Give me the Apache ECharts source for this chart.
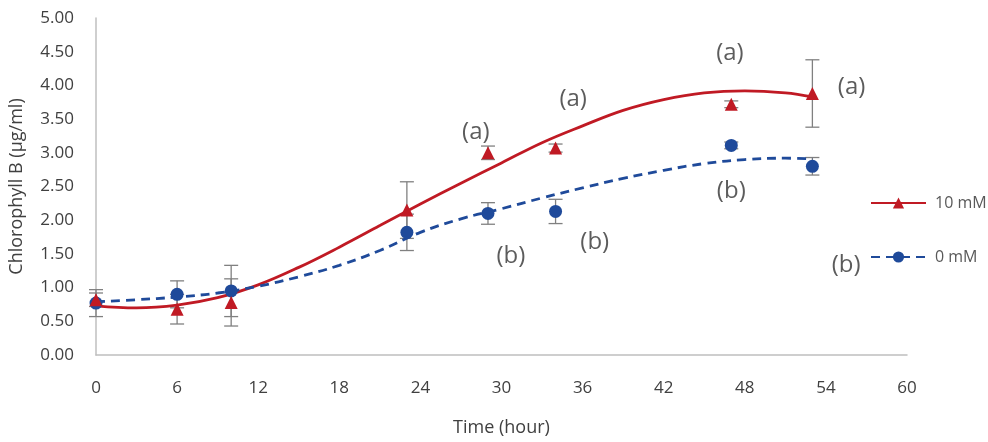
<!DOCTYPE html>
<html>
<head>
<meta charset="utf-8">
<script src="https://cdn.jsdelivr.net/npm/echarts@6/dist/echarts.min.js"></script>
<style>
html,body{margin:0;padding:0;background:#fff;}
#chart{width:988px;height:442px;}
</style>
</head>
<body>
<div id="chart"></div>
<script>
// Measured times (hours)
var times = [0, 6, 10, 23, 29, 34, 47, 53];
// 10 mM measurements and error
var red = [0.82, 0.68, 0.78, 2.15, 3.00, 3.07, 3.72, 3.88];
var redErr = [0.10, 0.22, 0.35, 0.42, 0.10, 0.06, 0.05, 0.50];
// 0 mM measurements and error
var blue = [0.77, 0.90, 0.95, 1.82, 2.10, 2.13, 3.11, 2.80];
var blueErr = [0.20, 0.20, 0.38, 0.27, 0.16, 0.18, 0.05, 0.13];
// Trendlines
var trendT = [0, 3, 6, 9, 12, 15, 18, 21, 24, 27, 30, 33, 36, 39, 42, 45, 48, 51, 53];
var redTrend = [0.73, 0.70, 0.74, 0.85, 1.04, 1.30, 1.60, 1.92, 2.24, 2.55, 2.85, 3.15, 3.40, 3.63, 3.79, 3.89, 3.92, 3.89, 3.83];
var blueTrend = [0.79, 0.82, 0.86, 0.92, 1.02, 1.16, 1.33, 1.55, 1.82, 2.02, 2.17, 2.33, 2.48, 2.62, 2.74, 2.84, 2.90, 2.92, 2.91];
// Significance labels
var annoText = ['(a)', '(a)', '(a)', '(a)', '(b)', '(b)', '(b)', '(b)'];
var annoT = [28.1, 35.3, 46.9, 55.9, 30.7, 36.9, 47.0, 55.5];
var annoV = [3.30, 3.79, 4.48, 3.97, 1.47, 1.68, 2.43, 1.33];

var RED = '#C01A24', BLUE = '#1F4A9A', FONT = 'Open Sans';

function zip(a, b) { return a.map(function (v, i) { return [v, b[i]]; }); }
function errData(vals, errs) { return times.map(function (t, i) { return [t, vals[i] - errs[i], vals[i] + errs[i]]; }); }
function errRender(params, api) {
  var x = api.value(0);
  var lo = api.coord([x, api.value(1)]);
  var hi = api.coord([x, api.value(2)]);
  var w = 7;
  var st = { stroke: '#808080', lineWidth: 1.3 };
  return { type: 'group', children: [
    { type: 'line', shape: { x1: lo[0], y1: lo[1], x2: hi[0], y2: hi[1] }, style: st },
    { type: 'line', shape: { x1: lo[0] - w, y1: lo[1], x2: lo[0] + w, y2: lo[1] }, style: st },
    { type: 'line', shape: { x1: hi[0] - w, y1: hi[1], x2: hi[0] + w, y2: hi[1] }, style: st }
  ] };
}

var chart = echarts.init(document.getElementById('chart'));
chart.setOption({
  animation: false,
  textStyle: { fontFamily: FONT },
  grid: { left: 95, right: 81, top: 18, bottom: 85 },
  legend: {
    orient: 'vertical', left: 865, top: 190, itemGap: 38,
    itemWidth: 55, itemHeight: 14,
    textStyle: { fontSize: 16, color: '#595959', fontFamily: FONT, padding: [0, 0, 0, 4] },
    data: ['10 mM', '0 mM']
  },
  xAxis: {
    type: 'value', min: 0, max: 60, interval: 6,
    name: 'Time (hour)', nameLocation: 'middle', nameGap: 64,
    nameTextStyle: { fontSize: 18, color: '#404040' },
    axisLine: { lineStyle: { color: '#BFBFBF', width: 1.5 } },
    axisTick: { show: false }, splitLine: { show: false },
    axisLabel: { fontSize: 17, color: '#404040', margin: 25 }
  },
  yAxis: {
    type: 'value', min: 0, max: 5, interval: 0.5,
    name: 'Chlorophyll B (\u00b5g/ml)', nameLocation: 'middle', nameGap: 70, nameRotate: 90,
    nameTextStyle: { fontSize: 18, color: '#404040' },
    axisLine: { show: true, lineStyle: { color: '#BFBFBF', width: 1.5 } },
    axisTick: { show: false }, splitLine: { show: false },
    axisLabel: { fontSize: 17, color: '#404040', margin: 22, formatter: function (v) { return v.toFixed(2); } }
  },
  series: [
    { name: '10 mM', type: 'line', smooth: 0.4, data: zip(trendT, redTrend),
      symbol: 'triangle', symbolSize: 12, showSymbol: false,
      itemStyle: { color: RED }, lineStyle: { color: RED, width: 2.8 }, z: 3 },
    { name: '0 mM', type: 'line', smooth: 0.4, data: zip(trendT, blueTrend),
      symbol: 'circle', symbolSize: 11, showSymbol: false,
      itemStyle: { color: BLUE }, lineStyle: { color: BLUE, width: 2.8, type: [9, 6] }, z: 3 },
    { type: 'custom', renderItem: errRender, data: errData(red, redErr), z: 2, silent: true },
    { type: 'custom', renderItem: errRender, data: errData(blue, blueErr), z: 2, silent: true },
    { type: 'scatter', data: zip(times, blue), symbol: 'circle', symbolSize: 13,
      itemStyle: { color: BLUE, opacity: 1 }, z: 4 },
    { type: 'scatter', data: zip(times, red), symbol: 'triangle', symbolSize: 13,
      itemStyle: { color: RED, opacity: 1 }, z: 5 },
    { type: 'scatter', symbolSize: 0, silent: true, z: 6,
      data: annoT.map(function (t, i) { return { value: [t, annoV[i]], text: annoText[i] }; }),
      label: { show: true, position: 'inside', fontSize: 24, color: '#333333', fontFamily: FONT,
        formatter: function (p) { return p.data.text; } } }
  ]
});
</script>
</body>
</html>
